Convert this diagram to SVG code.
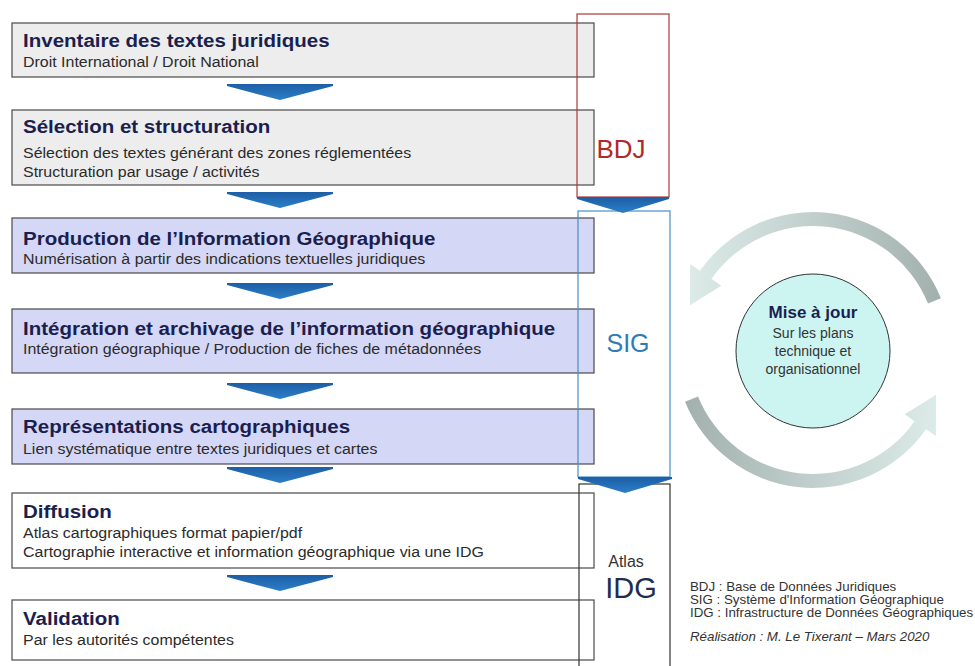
<svg xmlns="http://www.w3.org/2000/svg" width="975" height="666" viewBox="0 0 975 666">
<defs>
<style>
.box{stroke:#4a4a4a;stroke-width:1.2}
.gray{fill:#ededed}
.lav{fill:#d5d7f6}
.wht{fill:#ffffff}
.h{font-family:"Liberation Sans",Arial,sans-serif;font-weight:bold;font-size:19px;fill:#1b1f4f}
.s{font-family:"Liberation Sans",Arial,sans-serif;font-size:14.5px;fill:#2b2b2b}
.chev{fill:url(#bl)}
.leg{font-family:"Liberation Sans",Arial,sans-serif;font-size:12px;fill:#333}
</style>
<linearGradient id="bl" x1="0" y1="0" x2="0" y2="1">
<stop offset="0" stop-color="#1d5ea6"/>
<stop offset="1" stop-color="#2a7fc8"/>
</linearGradient>
<linearGradient id="gt" gradientUnits="userSpaceOnUse" x1="940" y1="300" x2="690" y2="290">
<stop offset="0" stop-color="#a3b1ae"/>
<stop offset="1" stop-color="#dcebe8"/>
</linearGradient>
<linearGradient id="gb" gradientUnits="userSpaceOnUse" x1="686" y1="400" x2="936" y2="410">
<stop offset="0" stop-color="#a3b1ae"/>
<stop offset="1" stop-color="#dcebe8"/>
</linearGradient>
</defs>
<rect width="975" height="666" fill="#ffffff"/>

<g id="n1"><rect class="box gray" x="12" y="23" width="582" height="54"/>
<g transform="translate(23 0) scale(1.08 1)"><text class="h" x="0" y="47">Inventaire des textes juridiques</text></g>
<g transform="translate(23 0) scale(1.1 1)"><text class="s" x="0" y="67">Droit International  / Droit National</text></g></g>

<g id="n2"><rect class="box gray" x="12" y="110" width="582" height="75"/>
<g transform="translate(23 0) scale(1.08 1)"><text class="h" x="0" y="133">Sélection et structuration</text></g>
<g transform="translate(23 0) scale(1.1 1)"><text class="s" x="0" y="158">Sélection des textes générant des zones réglementées</text>
<text class="s" x="0" y="177">Structuration par usage / activités</text></g></g>

<g id="n3"><rect class="box lav" x="12" y="218" width="582" height="55"/>
<g transform="translate(23 0) scale(1.08 1)"><text class="h" x="0" y="245">Production de l’Information Géographique</text></g>
<g transform="translate(23 0) scale(1.1 1)"><text class="s" x="0" y="264">Numérisation à partir des indications textuelles juridiques</text></g></g>

<g id="n4"><rect class="box lav" x="12" y="309" width="582" height="64"/>
<g transform="translate(23 0) scale(1.08 1)"><text class="h" x="0" y="335">Intégration et archivage de l’information géographique</text></g>
<g transform="translate(23 0) scale(1.1 1)"><text class="s" x="0" y="354">Intégration  géographique   / Production de fiches de métadonnées</text></g></g>

<g id="n5"><rect class="box lav" x="12" y="409" width="582" height="55"/>
<g transform="translate(23 0) scale(1.08 1)"><text class="h" x="0" y="433">Représentations cartographiques</text></g>
<g transform="translate(23 0) scale(1.1 1)"><text class="s" x="0" y="454">Lien systématique entre textes juridiques et cartes</text></g></g>

<g id="n6"><rect class="box wht" x="12" y="493" width="582" height="75"/>
<g transform="translate(23 0) scale(1.08 1)"><text class="h" x="0" y="518">Diffusion</text></g>
<g transform="translate(23 0) scale(1.1 1)"><text class="s" x="0" y="538">Atlas cartographiques format papier/pdf</text>
<text class="s" x="0" y="557">Cartographie interactive et information géographique  via une IDG</text></g></g>

<g id="n7"><rect class="box wht" x="12" y="600" width="582" height="60"/>
<g transform="translate(23 0) scale(1.08 1)"><text class="h" x="0" y="625">Validation</text></g>
<g transform="translate(23 0) scale(1.1 1)"><text class="s" x="0" y="645">Par les autorités compétentes</text></g></g>

<g id="bdj"><rect x="577" y="14" width="92" height="183" fill="none" stroke="#a83a3a" stroke-width="1.2"/>
<text x="621" y="158" text-anchor="middle" font-family="Liberation Sans,Arial,sans-serif" font-size="26" fill="#b02a2a">BDJ</text></g>

<g id="sig"><rect x="578" y="211" width="92" height="266" fill="none" stroke="#4a8fc4" stroke-width="1.2"/>
<text x="628" y="352" text-anchor="middle" font-family="Liberation Sans,Arial,sans-serif" font-size="25" fill="#2e7bb8">SIG</text></g>

<g id="idg"><rect x="579" y="484" width="91" height="190" fill="none" stroke="#333" stroke-width="1.2"/>
<text x="626" y="567" text-anchor="middle" font-family="Liberation Sans,Arial,sans-serif" font-size="16" fill="#333">Atlas</text>
<text x="631" y="598" text-anchor="middle" font-family="Liberation Sans,Arial,sans-serif" font-size="29" fill="#1e2d50">IDG</text></g>

<g id="connectors">
<polygon class="chev" points="227,84 333,84 333,86 280,100 227,86"/>
<polygon class="chev" points="227,192 333,192 333,194 280,208 227,194"/>
<polygon class="chev" points="227,283 333,283 333,285 280,299 227,285"/>
<polygon class="chev" points="227,383 333,383 333,385 280,399 227,385"/>
<polygon class="chev" points="227,467 333,467 333,469 280,483 227,469"/>
<polygon class="chev" points="227,575 333,575 333,577 280,591 227,577"/>
<polygon class="chev" points="577,197 669,197 669,199 623,213 577,199"/>
<polygon class="chev" points="578,477 672,477 672,479 625,493 578,479"/>
<path d="M940.95,298.31 A138,138 0 0 0 699.95,270.84 L690.12,263.96 L689.9,305.2 L721.25,285.76 L711.42,278.87 A124,124 0 0 1 927.97,303.55 Z" fill="url(#gt)"/>
<path d="M685.05,401.69 A138,138 0 0 0 926.05,429.16 L935.88,436.04 L936.1,394.8 L904.75,414.24 L914.58,421.13 A124,124 0 0 1 698.03,396.45 Z" fill="url(#gb)"/>
</g>

<g id="maj"><circle cx="813" cy="351" r="77" fill="#ccf5f2" stroke="#333" stroke-width="1"/>
<text x="813" y="318" text-anchor="middle" font-family="Liberation Sans,Arial,sans-serif" font-weight="bold" font-size="17" fill="#1b1f4f">Mise à jour</text>
<text x="813" y="338" text-anchor="middle" font-family="Liberation Sans,Arial,sans-serif" font-size="14" fill="#333">Sur les plans</text>
<text x="813" y="356" text-anchor="middle" font-family="Liberation Sans,Arial,sans-serif" font-size="14" fill="#333">technique et</text>
<text x="813" y="374" text-anchor="middle" font-family="Liberation Sans,Arial,sans-serif" font-size="14" fill="#333">organisationnel</text></g>

<g id="legend" transform="translate(690 0) scale(1.11 1)">
<text class="leg" x="0" y="591">BDJ :  Base de Données Juridiques</text>
<text class="leg" x="0" y="604">SIG : Système d'Information Géographique</text>
<text class="leg" x="0" y="617">IDG : Infrastructure de Données Géographiques</text>
<text class="leg" x="0" y="641" font-style="italic">Réalisation : M.  Le Tixerant – Mars 2020</text>
</g>
</svg>
